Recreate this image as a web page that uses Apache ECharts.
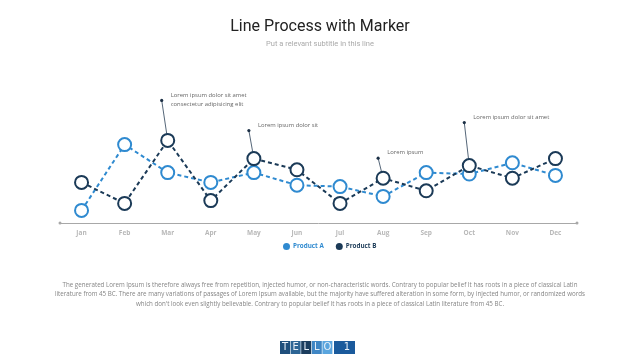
<!DOCTYPE html>
<html><head><meta charset="utf-8">
<script src="https://cdn.jsdelivr.net/npm/echarts@6/dist/echarts.min.js"></script>
<style>html,body{margin:0;padding:0;background:#fff}#c{width:640px;height:360px}</style>
</head><body><div id="c"></div>
<script>
const categories = ['Jan','Feb','Mar','Apr','May','Jun','Jul','Aug','Sep','Oct','Nov','Dec'];
const productA = [9, 56, 36, 29, 36, 27, 26, 19, 36, 35, 43, 34];
const productB = [29, 14, 59, 16, 46, 38, 14, 32, 23, 41, 32, 46];
const seriesNames = ['Product A', 'Product B'];
const annotationMonths = ['Mar', 'May', 'Aug', 'Oct'];
const annotationTexts = ['Lorem ipsum dolor sit amet\nconsectetur adipisicing elit', 'Lorem ipsum dolor sit', 'Lorem ipsum', 'Lorem ipsum dolor sit amet'];
const titleText = 'Line Process with Marker';
const subtitleText = 'Put a relevant subtitle in this line';
const paragraphLines = [
  'The generated Lorem Ipsum is therefore always free from repetition, injected humor, or non-characteristic words. Contrary to popular belief It has roots in a piece of classical Latin',
  'literature from 45 BC. There are many variations of passages of Lorem Ipsum available, but the majority have suffered alteration in some form, by injected humor, or randomized words',
  "which don't look even slightly believable. Contrary to popular belief It has roots in a piece of classical Latin literature from 45 BC."
];
const logoLetters = ['T','E','L','L','O'];
const logoNumber = '1';

// styling (pixel offsets of annotation dots relative to their marker)
const annotationOffsets = [[-6, -40], [-5, -28], [-5, -20], [-5, -43]];
const colA = '#2f8ad0', colB = '#1b3a57';

const annData = annotationMonths.map((m, i) => {
  const idx = categories.indexOf(m);
  return [idx, productB[idx], i];
});

const chart = echarts.init(document.getElementById('c'));
const logoColors = ['#1f4f7c', '#2d6595', '#1b3d5e', '#3f86c4', '#5aa5de'];
const logoGraphics = [];
logoLetters.forEach((l, i) => {
  logoGraphics.push({type:'rect', shape:{x:280 + i*10.6, y:341, width:10, height:13}, style:{fill:logoColors[i]}});
  logoGraphics.push({type:'text', x:285 + i*10.6, y:347.5, style:{text:l, fill:'#e8f0f8', font:'10px "DejaVu Sans"', align:'center', verticalAlign:'middle'}});
});
logoGraphics.push({type:'rect', shape:{x:334, y:341, width:21, height:13}, style:{fill:'#1a5a9c'}});
logoGraphics.push({type:'text', x:347, y:347.5, style:{text:logoNumber, fill:'#e8f0f8', font:'10px "DejaVu Sans"', align:'center', verticalAlign:'middle'}});

chart.setOption({
  animation: false,
  title: {
    text: titleText, subtext: subtitleText, left: 'center', top: 14, itemGap: 5,
    textStyle: {fontFamily: 'Roboto', fontWeight: 'normal', fontSize: 16, color: '#222'},
    subtextStyle: {fontFamily: 'Roboto', fontSize: 7.5, color: '#aaa'}
  },
  legend: {
    data: [
      {name: seriesNames[0], textStyle: {color: colA}},
      {name: seriesNames[1], textStyle: {color: colB}}
    ],
    top: 238, left: 278, icon: 'circle', itemWidth: 7, itemHeight: 7, itemGap: 12,
    textStyle: {fontFamily: 'Open Sans', fontWeight: 'bold', fontSize: 6.3, padding: [0, 0, 0, -2]},
  },
  grid: {left: 60, right: 63, top: 83, bottom: 137},
  xAxis: {
    type: 'category', data: categories, boundaryGap: true,
    axisLine: {lineStyle: {color: '#a8a8a8', width: 1}, symbol: ['circle', 'circle'], symbolSize: [3, 3]},
    axisTick: {show: false},
    axisLabel: {color: '#b8b8b8', fontFamily: 'Open Sans', fontWeight: 'bold', fontSize: 6.5, margin: 7}
  },
  yAxis: {type: 'value', min: 0, max: 100, show: false, splitLine: {show: false}},
  graphic: [
    ...paragraphLines.map((t, i) => ({
      type: 'text', x: 320, y: 285 + i*9.5,
      style: {text: t, fill: '#858585', font: '6.2px "Open Sans"', align: 'center', verticalAlign: 'middle'}
    })),
    ...logoGraphics
  ],
  series: [
    {
      type: 'custom', name: 'annotations', z: 1, data: annData, silent: true,
      renderItem: function (params, api) {
        const p = api.coord([api.value(0), api.value(1)]);
        const off = annotationOffsets[api.value(2)];
        const d = [p[0] + off[0], p[1] + off[1]];
        return {type: 'group', children: [
          {type: 'line', shape: {x1: p[0], y1: p[1], x2: d[0], y2: d[1]}, style: {stroke: '#2a3f55', lineWidth: 0.8}},
          {type: 'circle', shape: {cx: d[0], cy: d[1], r: 1.6}, style: {fill: '#1b2f45'}},
          {type: 'text', x: d[0] + 9, y: d[1] - 10, style: {text: annotationTexts[api.value(2)], fill: '#666', font: '5.9px "Open Sans"', lineHeight: 9, verticalAlign: 'top'}}
        ]};
      }
    },
    {
      name: seriesNames[0], type: 'line', data: productA, z: 3,
      symbol: 'emptyCircle', symbolSize: 13,
      itemStyle: {color: colA, borderWidth: 2},
      lineStyle: {color: colA, width: 2, type: [4, 3]}
    },
    {
      name: seriesNames[1], type: 'line', data: productB, z: 4,
      symbol: 'emptyCircle', symbolSize: 13,
      itemStyle: {color: colB, borderWidth: 2},
      lineStyle: {color: colB, width: 2, type: [4, 3]}
    }
  ]
});
</script></body></html>
